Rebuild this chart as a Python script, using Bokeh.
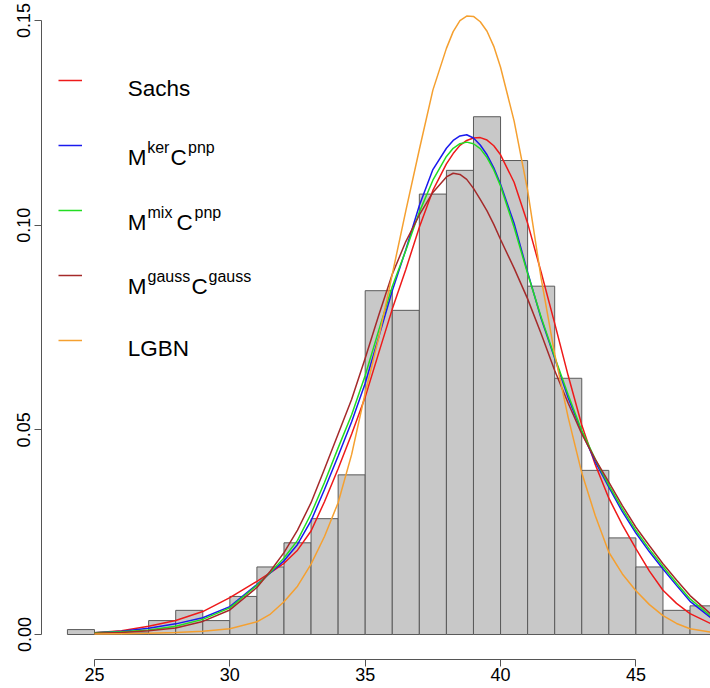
from bokeh.plotting import figure
from bokeh.models import Range1d, FixedTicker, NumeralTickFormatter, Legend, LegendItem, Label
from bokeh.embed import file_html
from bokeh.resources import INLINE

# ---------------- data ----------------
bin_edges = [24, 25, 26, 27, 28, 29, 30, 31, 32, 33, 34, 35, 36, 37, 38, 39, 40,
             41, 42, 43, 44, 45, 46, 47, 48]
hist_density = [0.0012, 0.0, 0.0006, 0.0034, 0.0059, 0.0034, 0.0093, 0.0165,
                0.0224, 0.0283, 0.0390, 0.0840, 0.0792, 0.1076, 0.1134, 0.1265,
                0.1158, 0.0851, 0.0626, 0.0401, 0.0236, 0.0165, 0.0059, 0.0070]

grid_x = [25, 26, 27, 28, 29, 30, 31, 31.5, 32, 32.5, 33, 33.5, 34, 34.5, 35, 35.5,
          36, 36.5, 37, 37.5, 38, 38.25, 38.5, 38.75, 39, 39.25, 39.5, 39.75, 40,
          40.5, 41, 41.5, 42, 42.5, 43, 43.5, 44, 44.5, 45, 45.5, 46, 46.5, 47, 47.75]

sachs = [0.0004, 0.0009, 0.0020, 0.0034, 0.0056, 0.0090, 0.0130, 0.0151, 0.0174,
         0.0206, 0.0253, 0.0325, 0.0405, 0.0490, 0.0580, 0.0688, 0.0795, 0.0892,
         0.0995, 0.1085, 0.1150, 0.1175, 0.1195, 0.1207, 0.1213, 0.1214, 0.1208,
         0.1194, 0.1172, 0.1105, 0.1005, 0.0885, 0.0760, 0.0632, 0.0512, 0.0415,
         0.0333, 0.0268, 0.0210, 0.0155, 0.0108, 0.0076, 0.0051, 0.0027]

ker_pnp = [0.0004, 0.0008, 0.0015, 0.0026, 0.0041, 0.0068, 0.0122, 0.0151, 0.0180,
           0.0220, 0.0278, 0.0355, 0.0436, 0.0520, 0.0614, 0.0727, 0.0840, 0.0940,
           0.1048, 0.1136, 0.1188, 0.1207, 0.1218, 0.1221, 0.1213, 0.1196, 0.1172,
           0.1140, 0.1100, 0.1005, 0.0885, 0.0772, 0.0675, 0.0578, 0.0495, 0.0422,
           0.0360, 0.0300, 0.0248, 0.0202, 0.0160, 0.0120, 0.0081, 0.0042]

mix_pnp = [0.0004, 0.0007, 0.0011, 0.0020, 0.0037, 0.0065, 0.0120, 0.0152, 0.0187,
           0.0230, 0.0295, 0.0372, 0.0456, 0.0537, 0.0633, 0.0743, 0.0850, 0.0938,
           0.1032, 0.1110, 0.1168, 0.1188, 0.1199, 0.1203, 0.1199, 0.1187, 0.1165,
           0.1135, 0.1096, 0.0995, 0.0882, 0.0775, 0.0678, 0.0585, 0.0498, 0.0428,
           0.0365, 0.0307, 0.0254, 0.0208, 0.0166, 0.0125, 0.0087, 0.0046]

gauss_gauss = [0.0003, 0.0005, 0.0009, 0.0016, 0.0032, 0.0060, 0.0115, 0.0155, 0.0200,
               0.0255, 0.0322, 0.0405, 0.0490, 0.0575, 0.0675, 0.0780, 0.0880, 0.0960,
               0.1025, 0.1080, 0.1118, 0.1127, 0.1124, 0.1112, 0.1090, 0.1063, 0.1035,
               0.1002, 0.0965, 0.0895, 0.0820, 0.0735, 0.0645, 0.0565, 0.0490, 0.0428,
               0.0372, 0.0315, 0.0262, 0.0217, 0.0173, 0.0133, 0.0095, 0.0051]

lgbn = [0.0001, 0.0002, 0.0003, 0.0005, 0.0008, 0.0014, 0.0031, 0.0050, 0.0080,
        0.0118, 0.0172, 0.0240, 0.0322, 0.0440, 0.0590, 0.0725, 0.0880, 0.1035,
        0.1185, 0.1330, 0.1432, 0.1473, 0.1500, 0.1511, 0.1510, 0.1497, 0.1474,
        0.1437, 0.1386, 0.1255, 0.1085, 0.0870, 0.0685, 0.0530, 0.0395, 0.0290,
        0.0201, 0.0148, 0.0107, 0.0073, 0.0046, 0.0027, 0.0014, 0.0006]

x_ticks = [25, 30, 35, 40, 45]
y_ticks = [0.0, 0.05, 0.10, 0.15]

# ---------------- layout helpers (page pixel -> data) ----------------
def dx(px):
    return 25 + (px - 94) / 27.07

def dy(py):
    return (634 - py) / 4093.0

FONT = "Liberation Sans"

p = figure(width=710, height=688, output_backend="svg", toolbar_location=None,
           x_range=Range1d(dx(41), dx(710)), y_range=Range1d(dy(659), dy(0)),
           min_border_left=41, min_border_right=0, min_border_top=0,
           min_border_bottom=29)
p.outline_line_color = None
p.xgrid.visible = False
p.ygrid.visible = False
p.background_fill_color = "white"
p.border_fill_color = "white"

# histogram
p.quad(left=bin_edges[:-1], right=bin_edges[1:], bottom=0, top=hist_density,
       fill_color="#c8c8c8", line_color="#5a5a5a", line_width=1)

series = [
    (sachs, "#ee1a1a"),
    (ker_pnp, "#1a1aee"),
    (mix_pnp, "#22dd22"),
    (gauss_gauss, "#a52a2a"),
    (lgbn, "#f5a030"),
]
renderers = []
for ys, col in series:
    r = p.line(grid_x, ys, line_color=col, line_width=1.5)
    renderers.append(r)

# axes
for ax in (p.xaxis[0], p.yaxis[0]):
    ax.axis_line_color = "#555555"
    ax.major_tick_line_color = "#555555"
    ax.minor_tick_line_color = None
    ax.major_tick_in = 0
    ax.major_tick_out = 7
    ax.major_label_text_font = FONT
    ax.major_label_text_font_size = "18px"
    ax.major_label_text_color = "black"

p.xaxis[0].ticker = FixedTicker(ticks=x_ticks)
p.xaxis[0].bounds = (x_ticks[0], x_ticks[-1])
p.xaxis[0].major_label_standoff = 1

p.yaxis[0].ticker = FixedTicker(ticks=y_ticks)
p.yaxis[0].formatter = NumeralTickFormatter(format="0.00")
p.yaxis[0].bounds = (y_ticks[0], y_ticks[-1])
p.yaxis[0].major_label_orientation = "vertical"
p.yaxis[0].major_label_standoff = 4

# legend swatches
legend = Legend(items=[LegendItem(label=" ", renderers=[r]) for r in renderers],
                location=(17, 309), orientation="vertical",
                glyph_width=24, glyph_height=20, label_height=20, label_width=1,
                label_standoff=0, spacing=45, padding=0, margin=0,
                label_text_font_size="1px",
                border_line_alpha=0, background_fill_alpha=0)
p.add_layout(legend)

# legend texts (with superscripts)
BASE = "22.5px"
SUP = "16px"
RAISE = 10
pieces = [
    ("Sachs", 127.3, 88.3, BASE),
    ("M", 127.3, 156.7, BASE), ("ker", 146.7, 156.7 - RAISE, SUP),
    ("C", 170.0, 156.7, BASE), ("pnp", 187.5, 156.7 - RAISE, SUP),
    ("M", 127.3, 221.7, BASE), ("mix", 147.0, 221.7 - RAISE, SUP),
    ("C", 176.0, 221.7, BASE), ("pnp", 194.0, 221.7 - RAISE, SUP),
    ("M", 127.3, 286.0, BASE), ("gauss", 147.0, 286.0 - RAISE, SUP),
    ("C", 191.0, 286.0, BASE), ("gauss", 208.0, 286.0 - RAISE, SUP),
    ("LGBN", 127.3, 348.3, BASE),
]
for txt, px, py, fs in pieces:
    p.add_layout(Label(x=dx(px), y=dy(py), text=txt, text_font=FONT,
                       text_font_size=fs, text_align="left",
                       text_baseline="alphabetic", text_color="black"))

open("out.html", "w").write(file_html(p, INLINE))
